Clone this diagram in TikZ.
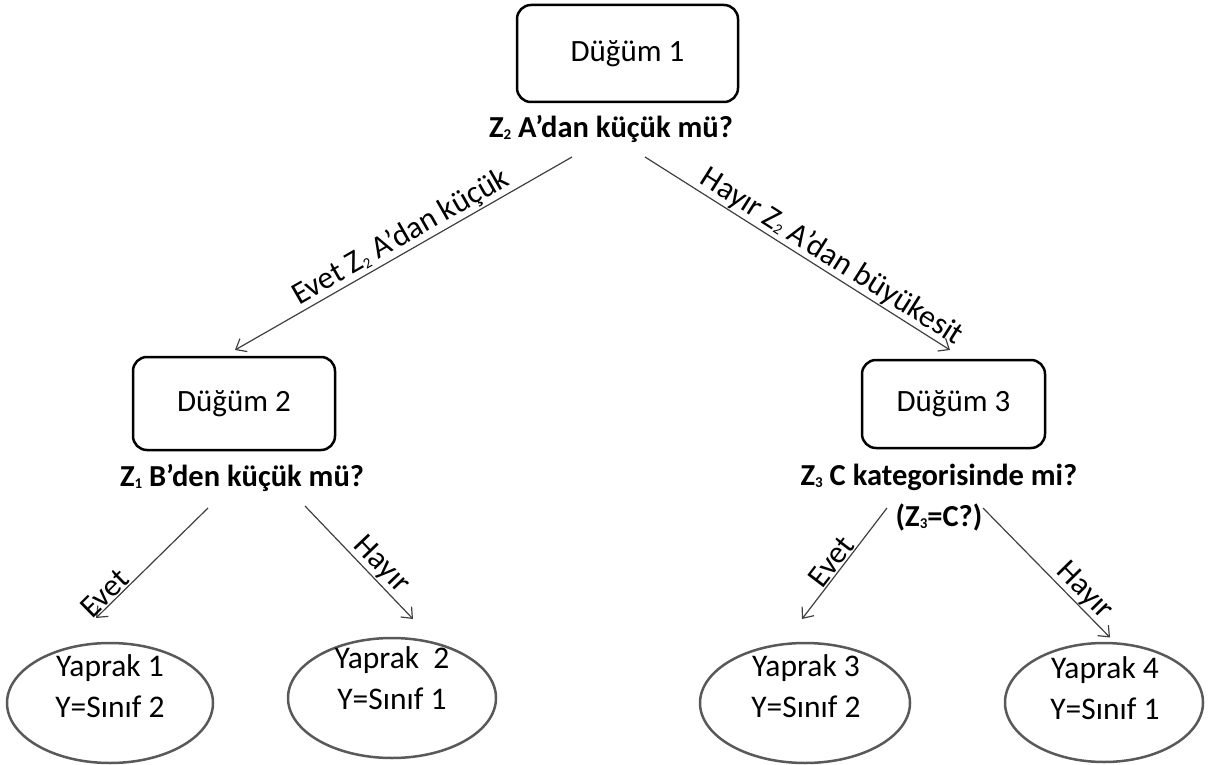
\documentclass[tikz,border=0pt]{standalone}
\usepackage{fontspec}
\setmainfont{Carlito}
\usetikzlibrary{arrows.meta,calc,shapes.geometric}
\newcommand\zsub[1]{\raisebox{-2pt}{\fontsize{15}{15}\selectfont #1}}
\begin{document}
\begin{tikzpicture}[x=1pt,y=-1pt,
  box/.style={draw=black,line width=2.5pt,rounded corners=14pt,font=\fontsize{31}{36}\selectfont},
  quest/.style={font=\bfseries\fontsize{30.5}{41}\selectfont,align=center,inner sep=0pt},
  leaf/.style={ellipse,draw=black!65,line width=2.5pt,inner sep=0pt},
  leaftext/.style={font=\fontsize{31.5}{41}\selectfont,align=center,inner sep=0pt},
  arr/.style={draw=black!75,line width=1.2pt,-{Straight Barb[length=9pt,width=15pt]}},
  lab/.style={sloped,above,inner sep=1pt,font=\fontsize{31.5}{36}\selectfont}]
\useasboundingbox (0,0) rectangle (1218,765);

% internal nodes
\node[box,minimum width=221pt,minimum height=97pt] (n1) at (627.5,53.5) {Düğüm 1};
\node[quest] (q1) at (611,129) {Z\zsub{2} A’dan küçük mü?};
\node[box,minimum width=202pt,minimum height=93pt] (n2) at (234,403.5) {Düğüm 2};
\node[quest] (q2) at (242,478) {Z\zsub{1} B’den küçük mü?};
\node[box,minimum width=183pt,minimum height=88pt] (n3) at (953.5,404) {Düğüm 3};
\node[quest] (q3) at (939,498) {Z\zsub{3} C kategorisinde mi?\\(Z\zsub{3}=C?)};

% leaves
\node[leaf,minimum width=206pt,minimum height=120pt] (l1) at (110,703) {};
\node[leaftext] (t1) at (110,686) {Yaprak 1\\Y=Sınıf 2};
\node[leaf,minimum width=208pt,minimum height=120pt] (l2) at (392,698) {};
\node[leaftext] (t2) at (392,678) {Yaprak~ 2\\Y=Sınıf 1};
\node[leaf,minimum width=210pt,minimum height=120pt] (l3) at (805,703) {};
\node[leaftext] (t3) at (806,686) {Yaprak 3\\Y=Sınıf 2};
\node[leaf,minimum width=198pt,minimum height=119pt] (l4) at (1104,702.5) {};
\node[leaftext] (t4) at (1105,688) {Yaprak 4\\Y=Sınıf 1};

% connectors
\draw[arr] ($(q1.center)+(-39,28)$) -- node[lab,pos=.485]{Evet Z\zsub{2} A’dan küçük} ($(n2.center)+(1,-53.5)$);
\draw[arr] ($(q1.center)+(34,28)$) -- node[lab,pos=.585]{Hayır Z\zsub{2} A’dan büyükesit} ($(n3.center)+(-3.5,-54)$);
\draw[arr] ($(q2.center)+(-34,30)$) -- node[lab,pos=.85]{Evet} ($(l1.center)+(-14,-85)$);
\draw[arr] ($(q2.center)+(63,28)$) -- node[lab,pos=.61]{Hayır} ($(l2.center)+(21,-79)$);
\draw[arr] ($(q3.center)+(-52,10)$) -- node[lab,pos=.55]{Evet} ($(l3.center)+(-3,-84)$);
\draw[arr] ($(q3.center)+(44,10)$) -- node[lab,pos=.72]{Hayır} ($(l4.center)+(6,-65)$);
\end{tikzpicture}
\end{document}
